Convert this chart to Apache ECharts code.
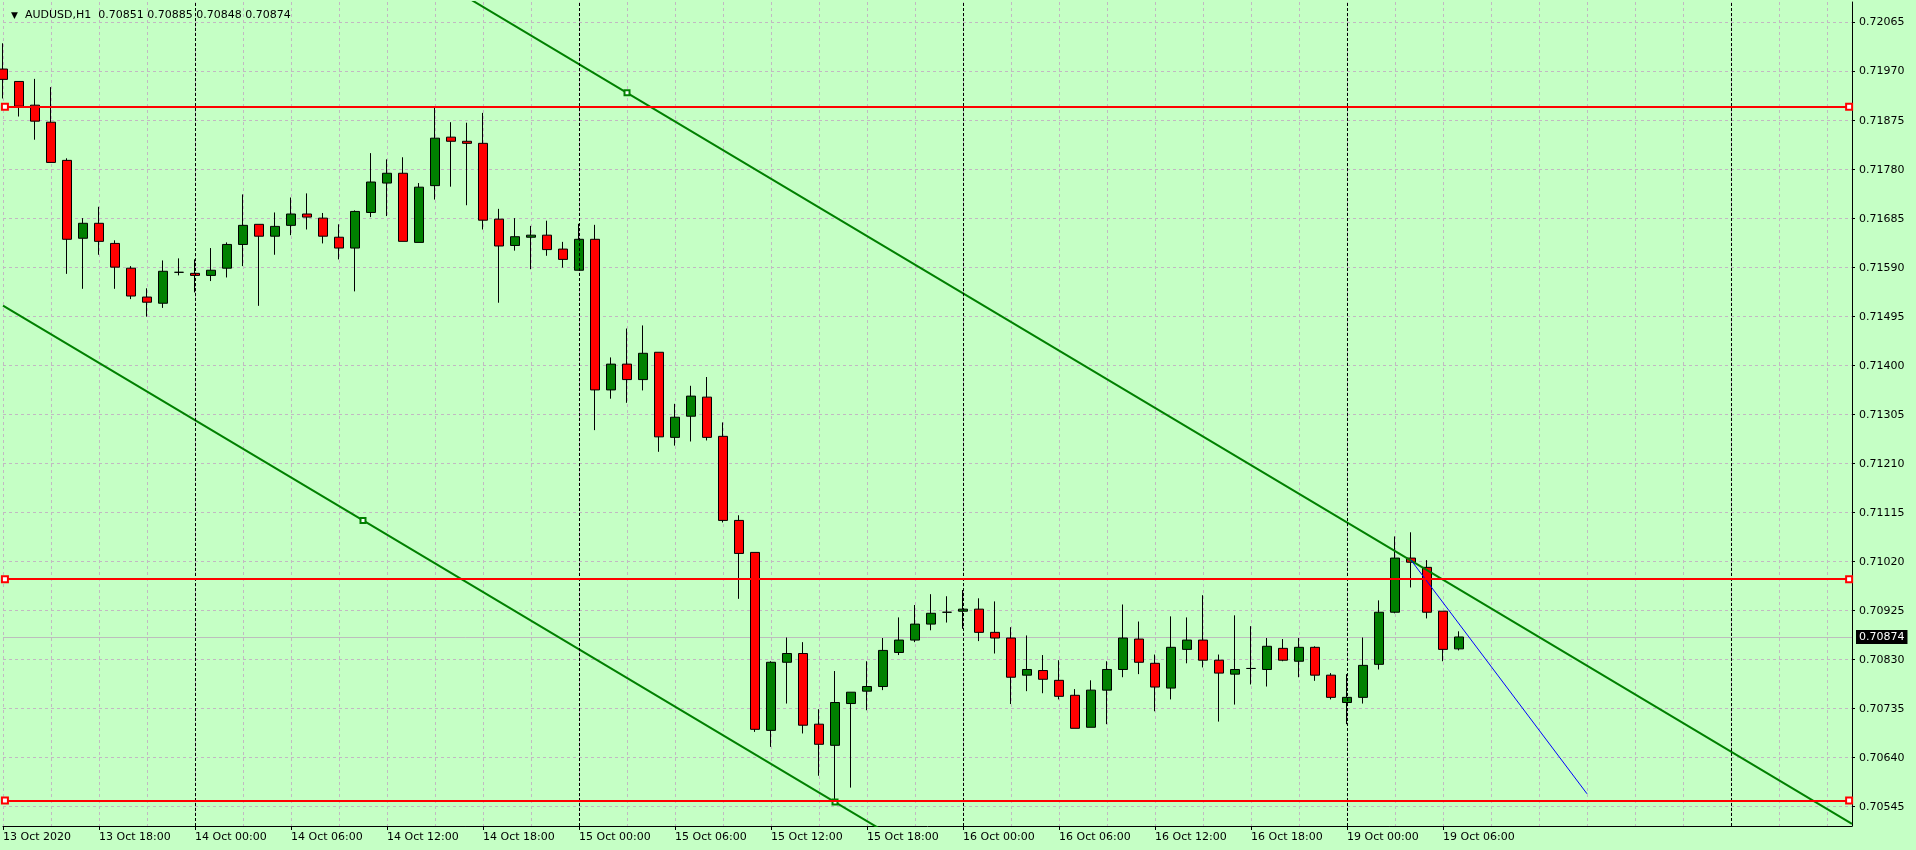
<!DOCTYPE html>
<html><head><meta charset="utf-8">
<script src="https://cdn.jsdelivr.net/npm/echarts@6/dist/echarts.min.js"></script>
<style>html,body{margin:0;padding:0;background:#C5FFC5;overflow:hidden}#c{width:1916px;height:850px}</style>
</head><body><div id="c"></div>
<script>
// ---------- data ----------
const symbolName = 'AUDUSD,H1';
const headerOHLC = ['0.70851', '0.70885', '0.70848', '0.70874'];

const opens = [0.71975,0.71951,0.71905,0.71872,0.71798,0.71647,0.71676,0.71637,0.71589,0.71533,
0.71521,0.71581,0.71579,0.71575,0.71589,0.71635,0.71674,0.71651,0.71672,0.71694,
0.71686,0.71649,0.71628,0.71697,0.71754,0.71773,0.71639,0.71749,0.71843,0.71835,
0.71831,0.71684,0.71633,0.71649,0.71653,0.71626,0.71585,0.71645,0.71353,0.71403,
0.71373,0.71426,0.71261,0.71302,0.71339,0.71263,0.71100,0.71038,0.70693,0.70825,
0.70842,0.70705,0.70664,0.70745,0.70769,0.70778,0.70844,0.70868,0.70899,0.70922,
0.70924,0.70928,0.70883,0.70872,0.70800,0.70809,0.70790,0.70761,0.70699,0.70771,
0.70811,0.70870,0.70823,0.70775,0.70850,0.70868,0.70829,0.70802,0.70813,0.70811,
0.70852,0.70827,0.70854,0.70800,0.70747,0.70757,0.70821,0.70922,0.71027,0.71009,
0.70924,0.70851];
const closes = [0.71955,0.71903,0.71874,0.71794,0.71645,0.71676,0.71641,0.71591,0.71535,0.71523,
0.71583,0.71581,0.71575,0.71585,0.71635,0.71672,0.71651,0.71670,0.71694,0.71688,
0.71651,0.71628,0.71699,0.71756,0.71773,0.71641,0.71746,0.71841,0.71835,0.71831,
0.71682,0.71632,0.71650,0.71653,0.71625,0.71606,0.71645,0.71353,0.71403,0.71373,
0.71424,0.71262,0.71300,0.71341,0.71261,0.71100,0.71036,0.70695,0.70825,0.70842,
0.70703,0.70666,0.70747,0.70767,0.70778,0.70848,0.70868,0.70899,0.70920,0.70922,
0.70928,0.70883,0.70872,0.70796,0.70811,0.70792,0.70759,0.70697,0.70771,0.70811,
0.70872,0.70825,0.70777,0.70854,0.70868,0.70829,0.70804,0.70811,0.70813,0.70856,
0.70829,0.70854,0.70800,0.70757,0.70757,0.70819,0.70922,0.71027,0.71019,0.70922,
0.70850,0.70874];
const lows = [0.71918,0.71883,0.71838,0.71794,0.71578,0.71549,0.71615,0.71549,0.71529,0.71495,
0.71512,0.71575,0.71542,0.71564,0.71571,0.71593,0.71516,0.71615,0.71653,0.71664,
0.71637,0.71606,0.71544,0.71688,0.71690,0.71641,0.71639,0.71722,0.71747,0.71711,
0.71664,0.71522,0.71623,0.71587,0.71613,0.71590,0.71585,0.71275,0.71336,0.71328,
0.71352,0.71233,0.71245,0.71253,0.71255,0.71096,0.70948,0.70690,0.70661,0.70745,
0.70687,0.70605,0.70555,0.70582,0.70732,0.70771,0.70839,0.70864,0.70887,0.70902,
0.70890,0.70866,0.70842,0.70744,0.70769,0.70765,0.70753,0.70697,0.70699,0.70705,
0.70796,0.70802,0.70730,0.70753,0.70823,0.70815,0.70710,0.70743,0.70782,0.70778,
0.70827,0.70796,0.70789,0.70753,0.70705,0.70745,0.70811,0.70920,0.70970,0.70910,
0.70827,0.70848];
const highs = [0.72025,0.71951,0.71956,0.71940,0.71802,0.71686,0.71708,0.71643,0.71593,0.71550,
0.71604,0.71608,0.71606,0.71628,0.71639,0.71732,0.71674,0.71697,0.71726,0.71734,
0.71696,0.71674,0.71701,0.71812,0.71800,0.71804,0.71754,0.71901,0.71872,0.71871,
0.71890,0.71704,0.71686,0.71671,0.71681,0.71640,0.71675,0.71673,0.71416,0.71472,
0.71478,0.71426,0.71326,0.71361,0.71378,0.71290,0.71110,0.71038,0.70827,0.70873,
0.70864,0.70734,0.70808,0.70767,0.70827,0.70872,0.70912,0.70936,0.70957,0.70953,
0.70965,0.70949,0.70943,0.70893,0.70877,0.70839,0.70829,0.70773,0.70790,0.70827,
0.70937,0.70904,0.70840,0.70914,0.70912,0.70955,0.70840,0.70916,0.70895,0.70872,
0.70870,0.70872,0.70856,0.70804,0.70802,0.70873,0.70945,0.71069,0.71077,0.71023,
0.70924,0.70885];

const xLabelIndex = [0,6,12,18,24,30,36,42,48,54,60,66,72,78,84,90];
const xLabelText = ['13 Oct 2020','13 Oct 18:00','14 Oct 00:00','14 Oct 06:00','14 Oct 12:00','14 Oct 18:00',
  '15 Oct 00:00','15 Oct 06:00','15 Oct 12:00','15 Oct 18:00','16 Oct 00:00','16 Oct 06:00',
  '16 Oct 12:00','16 Oct 18:00','19 Oct 00:00','19 Oct 06:00'];
const yTicks = [0.70545,0.70640,0.70735,0.70830,0.70925,0.71020,0.71115,0.71210,0.71305,
  0.71400,0.71495,0.71590,0.71685,0.71780,0.71875,0.71970,0.72065];
const daySeparators = [12, 36, 60, 84, 108];
const horizontalLevels = [0.71902, 0.70986, 0.70557];
const upperTrendAnchors = [[39, 0.71929], [88, 0.71022]];
const lowerTrendAnchors = [[22.5, 0.71100], [52, 0.70554]];
const blueLinePoints = [[88, 0.71023], [99, 0.70570]];
const lastPrice = 0.70874;

// ---------- chart ----------
const FONT = 'DejaVu Sans';
const X_MIN = 0, X_MAX = 115.56;
const Y_MIN = 0.705076, Y_MAX = 0.72105;
const GRID_COLOR = '#C2B8C2';

const candleData = opens.map((o, i) => [i, o, closes[i], lows[i], highs[i]]);
const labelMap = {};
xLabelIndex.forEach((v, i) => { labelMap[v] = xLabelText[i]; });

function trendData(anchors, x0, x1, markers) {
  const [a, b] = anchors;
  const s = (b[1] - a[1]) / (b[0] - a[0]);
  return [[x0, a[1] + s * (x0 - a[0])]]
    .concat(anchors.map((p, i) => ({ value: p, symbol: markers[i] ? 'emptyRect' : 'none', symbolSize: 5 })))
    .concat([[x1, a[1] + s * (x1 - a[0])]]);
}

const chart = echarts.init(document.getElementById('c'), null, { renderer: 'canvas' });
chart.setOption({
  animation: false,
  backgroundColor: '#C5FFC5',
  title: {
    left: 6, top: 5,
    text: '{t|▼}  ' + symbolName + '  ' + headerOHLC.join(' '),
    textStyle: { fontFamily: FONT, fontSize: 11, fontWeight: 'normal', color: '#000',
      rich: { t: { fontSize: 9, color: '#000', fontFamily: FONT } } }
  },
  grid: { left: 3, right: 64, top: 2, bottom: 24, containLabel: false, outerBoundsMode: 'none' },
  xAxis: [
    {
      type: 'value', min: X_MIN, max: X_MAX, position: 'bottom',
      axisLine: { show: true, onZero: false, lineStyle: { color: '#000', width: 1 } },
      axisTick: { show: true, customValues: xLabelIndex, length: 4, lineStyle: { color: '#000' } },
      axisLabel: { customValues: xLabelIndex, formatter: v => labelMap[v] || '', align: 'left',
        margin: 6, color: '#000', fontFamily: FONT, fontSize: 11 },
      splitLine: { show: false }
    },
    {
      type: 'value', min: X_MIN, max: X_MAX, interval: 3, position: 'bottom',
      axisLine: { show: false }, axisTick: { show: false }, axisLabel: { show: false },
      splitLine: { show: true, lineStyle: { color: GRID_COLOR, type: [3, 3], width: 1 } }
    }
  ],
  yAxis: [
    {
      type: 'value', position: 'right', min: Y_MIN, max: Y_MAX,
      axisLine: { show: true, onZero: false, lineStyle: { color: '#000', width: 1 } },
      axisTick: { show: true, inside: false, length: 3, customValues: yTicks, lineStyle: { color: '#000' } },
      axisLabel: { customValues: yTicks, formatter: v => v.toFixed(5), color: '#000',
        fontFamily: FONT, fontSize: 11, margin: 7 },
      splitLine: { show: true, lineStyle: { color: GRID_COLOR, type: [3, 3], width: 1 } }
    },
    {
      type: 'value', position: 'right', min: Y_MIN, max: Y_MAX,
      axisLine: { show: false, onZero: false },
      axisTick: { show: false, customValues: [lastPrice] },
      axisLabel: { customValues: [lastPrice], formatter: v => v.toFixed(5), color: '#fff',
        backgroundColor: '#000', padding: [2, 3, 1, 3],
        fontFamily: FONT, fontSize: 11, margin: 4 },
      splitLine: { show: true, lineStyle: { color: '#BDBDBD', type: 'solid', width: 1 } }
    }
  ],
  series: [
    {
      type: 'line', data: [], z: 1, silent: true,
      markLine: {
        silent: true, symbol: 'none', animation: false,
        label: { show: false },
        lineStyle: { color: '#000', type: [3, 2], width: 1 },
        data: daySeparators.map(d => ({ xAxis: d }))
      }
    },
    {
      type: 'candlestick', z: 2, barWidth: 9, clip: true,
      encode: { x: 0, y: [1, 2, 3, 4] },
      data: candleData,
      itemStyle: {
        color: '#008000', color0: '#FF0000',
        borderColor: '#000', borderColor0: '#000', borderColorDoji: '#000', borderWidth: 1
      }
    },
    {
      type: 'line', data: [], z: 3, silent: true,
      markLine: {
        silent: true, animation: false,
        symbol: ['emptyRect', 'emptyRect'], symbolSize: 6,
        label: { show: false },
        lineStyle: { color: '#FF0000', type: 'solid', width: 2 },
        data: horizontalLevels.map(v => [{ coord: [0.12, v] }, { coord: [115.38, v] }])
      }
    },
    {
      type: 'line', z: 3, clip: true, silent: true, symbol: 'none', showSymbol: true,
      lineStyle: { color: '#008000', width: 2 }, itemStyle: { color: '#008000' },
      data: trendData(upperTrendAnchors, 20, X_MAX, [true, false])
    },
    {
      type: 'line', z: 3, clip: true, silent: true, symbol: 'none', showSymbol: true,
      lineStyle: { color: '#008000', width: 2 }, itemStyle: { color: '#008000' },
      data: trendData(lowerTrendAnchors, X_MIN, 60, [true, true])
    },
    {
      type: 'line', z: 3, clip: true, silent: true, symbol: 'none',
      lineStyle: { color: '#0000FF', width: 1 },
      data: blueLinePoints
    }
  ]
});
</script></body></html>
